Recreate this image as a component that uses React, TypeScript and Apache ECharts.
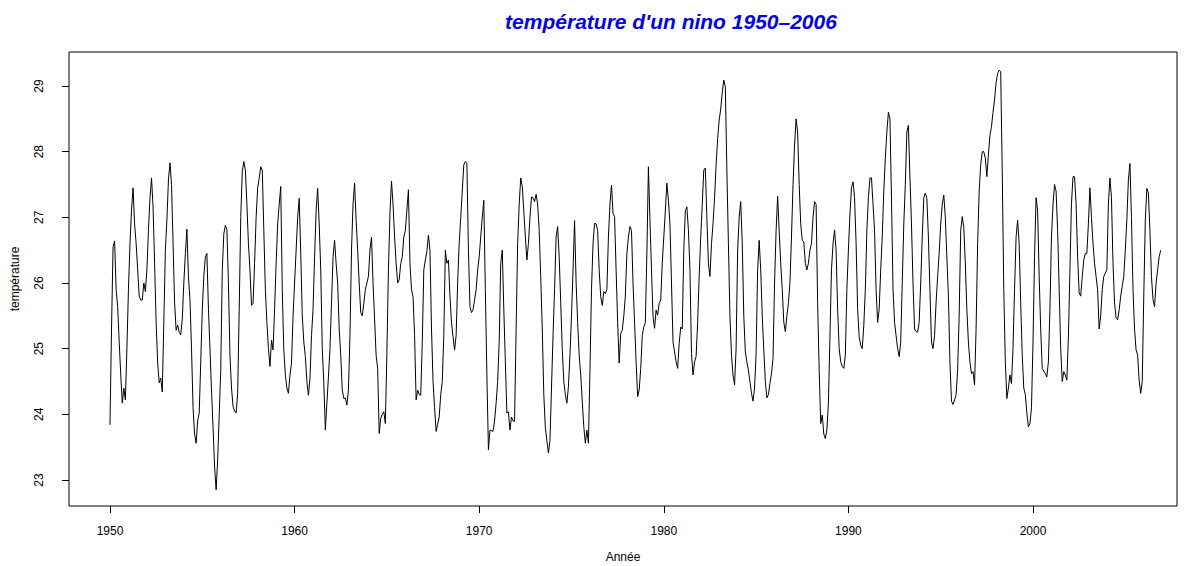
import React, { useEffect, useRef } from "react";
import * as echarts from "echarts";

// Monthly Niño sea surface temperature (°C), January 1950 onwards, one row per year.
const startYear = 1950;

const sst1950s = [
  23.84, 25.3, 26.55, 26.64, 25.9, 25.64, 25.1, 24.6, 24.17, 24.4, 24.22, 25.0,
  25.9, 26.6, 27.11, 27.45, 26.9, 26.6, 26.2, 25.8, 25.74, 25.74, 26.0, 25.87,
  26.2, 26.8, 27.29, 27.6, 27.16, 26.3, 25.4, 24.78, 24.48, 24.55, 24.34, 25.4,
  26.5, 26.96, 27.57, 27.83, 27.5, 26.6, 25.7, 25.28, 25.36, 25.25, 25.21, 25.45,
  26.0, 26.45, 26.82, 26.1, 25.74, 25.0, 24.1, 23.7, 23.56, 23.9, 24.02, 24.8,
  25.6, 26.1, 26.4, 26.45, 25.6, 25.0, 24.37, 23.8, 23.2, 22.85, 23.3, 24.0,
  24.67, 26.2, 26.75, 26.88, 26.81, 26.0, 24.9, 24.4, 24.12, 24.05, 24.02, 24.32,
  25.6, 27.0, 27.7, 27.85, 27.72, 27.2, 26.6, 26.2, 25.66, 25.69, 26.3, 27.0,
  27.45, 27.6, 27.77, 27.72, 26.8, 25.9, 25.4, 25.0, 24.73, 25.13, 24.98, 25.6,
  26.3, 26.9, 27.2, 27.47, 25.9, 24.98, 24.6, 24.4, 24.32, 24.6, 24.78, 25.5,
];

const sst1960s = [
  26.0, 26.5, 27.0, 27.29, 26.45, 25.5, 25.1, 24.88, 24.5, 24.29, 24.55, 25.2,
  25.6, 26.4, 27.1, 27.44, 26.9, 26.2, 25.0, 24.47, 23.76, 24.17, 24.57, 25.0,
  25.7, 26.4, 26.65, 26.3, 26.0, 25.3, 24.9, 24.37, 24.24, 24.25, 24.14, 24.37,
  25.2, 26.5, 27.2, 27.52, 26.96, 26.5, 26.0, 25.55, 25.5, 25.69, 25.9, 26.0,
  26.1, 26.5, 26.7, 26.0, 25.45, 24.9, 24.7, 23.71, 23.94, 24.0, 24.04, 23.86,
  24.93, 26.2, 27.06, 27.55, 27.2, 26.7, 26.3, 26.0, 26.05, 26.3, 26.4, 26.7,
  26.8, 27.11, 27.42, 26.3, 25.9, 25.79, 25.2, 24.22, 24.37, 24.3, 24.29, 25.1,
  26.2, 26.35, 26.48, 26.73, 26.5, 25.3, 24.5, 24.1, 23.74, 23.85, 23.96, 24.3,
  24.5, 25.2, 26.5, 26.3, 26.35, 25.8, 25.4, 25.18, 24.98, 25.2, 26.0, 26.6,
  27.0, 27.4, 27.8, 27.85, 27.82, 26.5, 25.64, 25.55, 25.59, 25.74, 25.9, 26.2,
];

const sst1970s = [
  26.4, 26.7, 27.0, 27.26, 25.9, 24.6, 23.46, 23.76, 23.75, 23.74, 23.9, 24.17,
  24.5, 25.1, 26.3, 26.5, 25.6, 24.8, 24.02, 24.04, 23.76, 23.96, 23.9, 23.89,
  25.3, 26.6, 27.2, 27.6, 27.47, 27.1, 26.7, 26.35, 26.6, 27.0, 27.31, 27.3,
  27.24, 27.35, 27.2, 26.8, 26.1, 25.3, 24.3, 23.8, 23.6, 23.41, 23.6, 24.4,
  25.2, 25.9, 26.7, 26.86, 26.4, 25.7, 25.0, 24.5, 24.3, 24.17, 24.42, 24.9,
  25.5, 26.2, 26.95, 26.0, 25.4, 24.9, 24.6, 24.2, 23.81, 23.56, 23.76, 23.56,
  24.67, 25.9, 26.6, 26.91, 26.9, 26.8, 26.2, 25.79, 25.66, 25.87, 25.84, 25.9,
  26.7, 27.2, 27.49, 27.06, 27.01, 26.2, 25.4, 24.78, 25.23, 25.28, 25.5, 25.8,
  26.45, 26.7, 26.86, 26.8, 26.0, 25.4, 24.8, 24.27, 24.37, 24.7, 25.2, 25.33,
  25.4, 26.45, 27.77, 26.96, 26.2, 25.49, 25.31, 25.59, 25.51, 25.69, 25.74, 26.3,
];

const sst1980s = [
  26.7, 27.1, 27.52, 27.26, 26.9, 26.0, 25.1, 24.95, 24.8, 24.7, 25.08, 25.33,
  25.3, 26.5, 27.1, 27.16, 26.81, 26.2, 24.93, 24.6, 24.8, 24.88, 25.4, 26.1,
  26.7, 27.2, 27.72, 27.75, 27.0, 26.3, 26.1, 26.6, 26.9, 27.3, 27.8, 28.2,
  28.48, 28.65, 28.9, 29.09, 28.99, 27.72, 26.6, 25.5, 24.9, 24.6, 24.45, 25.0,
  26.5, 27.0, 27.24, 26.6, 25.5, 24.95, 24.8, 24.67, 24.5, 24.32, 24.2, 24.4,
  24.93, 26.2, 26.65, 26.2, 25.5, 24.98, 24.5, 24.25, 24.3, 24.47, 24.62, 24.85,
  26.0, 26.8, 27.32, 26.8, 26.3, 25.9, 25.4, 25.26, 25.5, 25.69, 26.0, 26.7,
  27.5, 28.1, 28.5, 28.3, 27.5, 26.9, 26.65, 26.63, 26.3, 26.2, 26.3, 26.5,
  26.6, 27.0, 27.24, 27.2, 25.7, 24.67, 23.86, 23.99, 23.7, 23.63, 23.76, 24.17,
  25.18, 26.2, 26.6, 26.81, 26.5, 25.6, 25.0, 24.8, 24.73, 24.7, 24.9, 25.9,
];

const sst1990s = [
  26.5, 27.05, 27.45, 27.54, 27.3, 26.6, 25.6, 25.18, 25.05, 25.0, 25.35, 25.9,
  26.8, 27.3, 27.6, 27.6, 27.2, 26.8, 25.9, 25.4, 25.6, 26.2, 26.7, 27.4,
  27.9, 28.3, 28.6, 28.5, 27.3, 25.9, 25.4, 25.2, 25.0, 24.88, 25.1, 26.0,
  26.9, 27.5, 28.3, 28.4, 27.6, 26.9, 26.0, 25.3, 25.26, 25.25, 25.4, 26.0,
  26.7, 27.3, 27.37, 27.29, 26.7, 25.9, 25.1, 25.0, 25.2, 25.7, 26.1, 26.45,
  26.9, 27.2, 27.34, 27.0, 26.4, 25.8, 24.8, 24.2, 24.15, 24.22, 24.3, 24.67,
  25.5, 26.8, 27.01, 26.85, 26.3, 25.6, 25.1, 24.8, 24.62, 24.65, 24.45, 25.3,
  26.6, 27.4, 27.8, 28.0, 28.0, 27.9, 27.62, 27.95, 28.25, 28.38, 28.6, 28.79,
  29.05, 29.19, 29.24, 29.22, 27.7, 25.9, 24.8, 24.24, 24.4, 24.6, 24.47, 25.0,
  25.9, 26.7, 26.96, 26.6, 25.7, 24.9, 24.4, 24.3, 24.02, 23.81, 23.86, 24.1,
];

const sst2000s = [
  25.1, 26.4, 27.3, 27.1, 26.1, 25.3, 24.7, 24.66, 24.62, 24.57, 24.8, 25.6,
  26.7, 27.2, 27.5, 27.4, 26.8, 25.9, 25.0, 24.5, 24.65, 24.6, 24.52, 25.18,
  26.2, 27.21, 27.62, 27.62, 27.21, 26.4, 25.85, 25.8, 26.1, 26.35, 26.45, 26.45,
  26.9, 27.45, 27.0, 26.6, 26.3, 26.1, 25.9, 25.3, 25.5, 25.9, 26.1, 26.15,
  26.2, 27.2, 27.6, 27.3, 26.3, 25.7, 25.47, 25.44, 25.59, 25.8, 25.95, 26.1,
  26.5, 26.96, 27.57, 27.82, 27.0, 25.9, 25.3, 24.98, 24.9, 24.52, 24.32, 24.5,
  25.8, 26.96, 27.44, 27.37, 26.8, 26.1, 25.75, 25.64, 26.0, 26.2, 26.4, 26.5,
];

const xTickYears = [1950, 1960, 1970, 1980, 1990, 2000];
const yTickValues = [23, 24, 25, 26, 27, 28, 29];

const titleText = "température d'un nino 1950–2006";
const xAxisTitle = "Année";
const yAxisTitle = "température";

const FONT = "'Liberation Sans', Arial, Helvetica, sans-serif";

export default function App() {
  const ref = useRef<HTMLDivElement>(null);

  useEffect(() => {
    if (!ref.current) return;
    const monthly = [
      ...sst1950s,
      ...sst1960s,
      ...sst1970s,
      ...sst1980s,
      ...sst1990s,
      ...sst2000s,
    ];
    const points = monthly.map((v, i) => [startYear + i / 12, v]);

    const chart = echarts.init(ref.current, null, { renderer: "svg" });
    chart.setOption({
      animation: false,
      backgroundColor: "#ffffff",
      textStyle: { fontFamily: FONT },
      grid: {
        left: 69,
        top: 52,
        width: 1108,
        height: 454,
        show: true,
        borderColor: "#000000",
        borderWidth: 1,
        backgroundColor: "transparent",
      },
      xAxis: {
        type: "value",
        min: 1947.78,
        max: 2007.8,
        axisLine: { show: false },
        splitLine: { show: false },
        axisTick: {
          show: true,
          length: 7,
          customValues: xTickYears,
          lineStyle: { color: "#000000", width: 1 },
        },
        axisLabel: {
          customValues: xTickYears,
          formatter: (v: number) => String(Math.round(v)),
          margin: 19,
          fontSize: 12,
          color: "#000000",
          fontFamily: FONT,
        },
      },
      yAxis: {
        type: "value",
        min: 22.604,
        max: 29.518,
        axisLine: { show: false },
        splitLine: { show: false },
        axisTick: {
          show: true,
          length: 7,
          customValues: yTickValues,
          lineStyle: { color: "#000000", width: 1 },
        },
        axisLabel: {
          customValues: yTickValues,
          formatter: (v: number) => String(Math.round(v)),
          rotate: 90,
          margin: 24,
          fontSize: 12,
          color: "#000000",
          fontFamily: FONT,
        },
      },
      series: [
        {
          type: "line",
          data: points,
          showSymbol: false,
          symbol: "none",
          silent: true,
          lineStyle: { color: "#000000", width: 1 },
        },
      ],
      graphic: [
        {
          type: "text",
          x: 671,
          y: 21,
          style: {
            text: titleText,
            fill: "#0000ff",
            font: `italic bold 21px ${FONT}`,
            align: "center",
            verticalAlign: "middle",
          },
        },
        {
          type: "text",
          x: 623,
          y: 557,
          style: {
            text: xAxisTitle,
            fill: "#000000",
            font: `12px ${FONT}`,
            align: "center",
            verticalAlign: "middle",
          },
        },
        {
          type: "text",
          x: 15,
          y: 279,
          rotation: Math.PI / 2,
          style: {
            text: yAxisTitle,
            fill: "#000000",
            font: `12px ${FONT}`,
            align: "center",
            verticalAlign: "middle",
          },
        },
      ],
    });

    return () => {
      chart.dispose();
    };
  }, []);

  return (
    <div
      ref={ref}
      style={{ position: "absolute", left: 0, top: 0, width: 1190, height: 566 }}
    />
  );
}
